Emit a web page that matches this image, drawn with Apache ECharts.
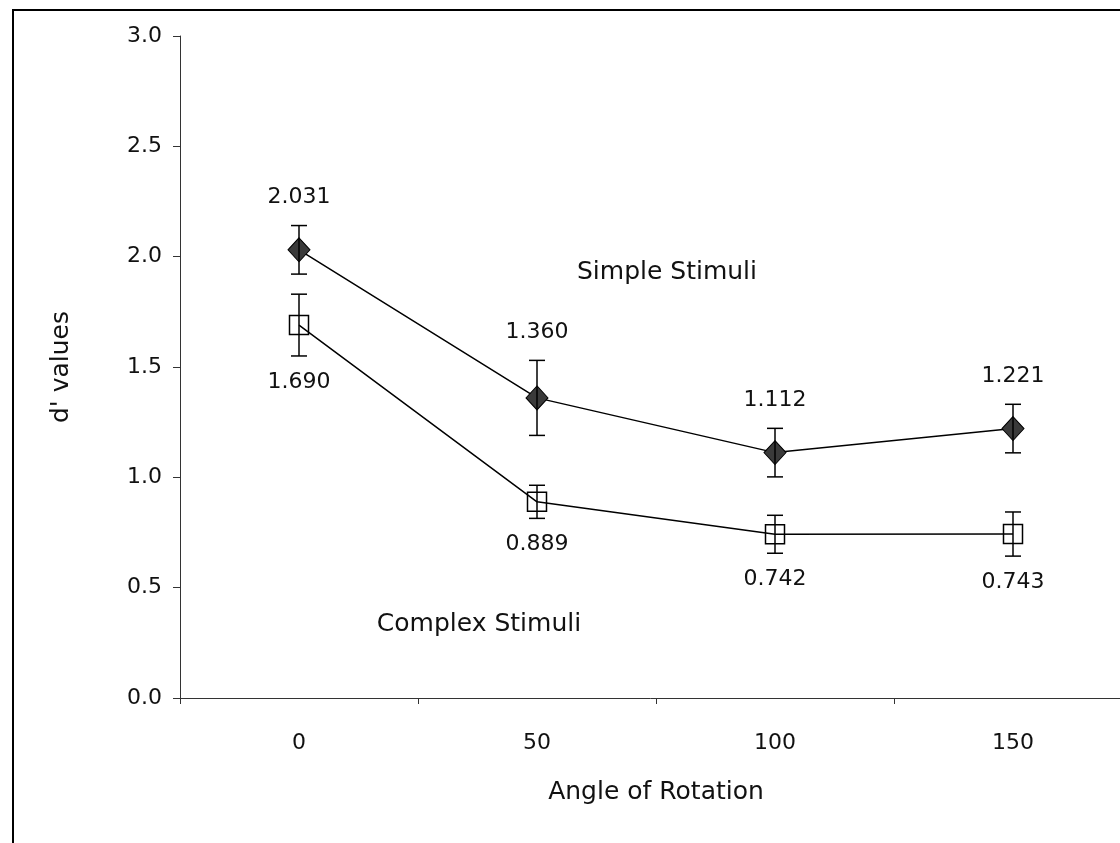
<!DOCTYPE html>
<html>
<head>
<meta charset="utf-8">
<script src="https://cdn.jsdelivr.net/npm/echarts@6/dist/echarts.min.js"></script>
<style>
  html, body { margin: 0; padding: 0; background: #fff; }
  #chart { width: 1120px; height: 843px; }
</style>
</head>
<body>
<div id="chart"></div>
<script>
  // angle of rotation categories
  const angles = ['0', '50', '100', '150']
  const yTicks = [0, 0.5, 1.0, 1.5, 2.0, 2.5, 3.0]
  // d' values
  const simpleVals = [2.031, 1.360, 1.112, 1.221]
  const simpleErr = [0.11, 0.17, 0.11, 0.11]
  const complexVals = [1.690, 0.889, 0.742, 0.743]
  const complexErr = [0.14, 0.075, 0.086, 0.10]

  const FONT = 'DejaVu Sans'
  const NUM = 22
  const WORD = 25
  const myChart = echarts.init(document.getElementById('chart'))

  function errorBars (labelSide) {
    return function (params, api) {
      const x = api.value(0)
      const v = api.value(1)
      const e = api.value(2)
      const top = api.coord([x, v + e])
      const bot = api.coord([x, v - e])
      const cap = 8
      const ls = { stroke: '#000', lineWidth: 1.5 }
      const labelY = labelSide === 'top' ? top[1] - 17 : bot[1] + 15
      return {
        type: 'group',
        children: [
          { type: 'line', shape: { x1: top[0], y1: top[1], x2: bot[0], y2: bot[1] }, style: ls },
          { type: 'line', shape: { x1: top[0] - cap, y1: top[1], x2: top[0] + cap, y2: top[1] }, style: ls },
          { type: 'line', shape: { x1: bot[0] - cap, y1: bot[1], x2: bot[0] + cap, y2: bot[1] }, style: ls },
          {
            type: 'text',
            style: {
              text: v.toFixed(3),
              x: top[0],
              y: labelY,
              align: 'center',
              verticalAlign: labelSide === 'top' ? 'bottom' : 'top',
              fontSize: NUM,
              fontFamily: FONT,
              fill: '#111'
            }
          }
        ]
      }
    }
  }

  const option = {
    animation: false,
    backgroundColor: '#fff',
    textStyle: { fontFamily: FONT, color: '#111' },
    grid: { left: 180, top: 36, width: 952, height: 662, outerBoundsMode: 'none' },
    xAxis: {
      type: 'category',
      data: angles,
      boundaryGap: true,
      name: 'Angle of Rotation',
      nameLocation: 'middle',
      nameGap: 82,
      nameTextStyle: { fontSize: WORD, fontFamily: FONT, color: '#111' },
      axisLine: { lineStyle: { color: '#333', width: 1 } },
      axisTick: { show: true, length: 6, lineStyle: { color: '#333' } },
      axisLabel: { fontSize: NUM, fontFamily: FONT, color: '#111', margin: 34 },
      splitLine: { show: false }
    },
    yAxis: {
      type: 'value',
      min: yTicks[0],
      max: yTicks[yTicks.length - 1],
      interval: 0.5,
      name: "d' values",
      nameLocation: 'middle',
      nameRotate: 90,
      nameGap: 106,
      nameTextStyle: { fontSize: WORD, fontFamily: FONT, color: '#111' },
      axisLine: { show: true, lineStyle: { color: '#333', width: 1 } },
      axisTick: { show: true, length: 7, lineStyle: { color: '#333' } },
      axisLabel: {
        fontSize: NUM, fontFamily: FONT, color: '#111', margin: 18,
        formatter: function (v) { return v.toFixed(1) }
      },
      splitLine: { show: false }
    },
    series: [
      {
        name: 'Simple Stimuli',
        type: 'line',
        data: simpleVals,
        symbol: 'diamond',
        symbolSize: [22, 24],
        lineStyle: { color: '#000', width: 1.5 },
        itemStyle: { color: '#3a3a3a', borderColor: '#000', borderWidth: 1 },
        z: 2
      },
      {
        name: 'Complex Stimuli',
        type: 'line',
        data: complexVals,
        symbol: 'rect',
        symbolSize: 19,
        lineStyle: { color: '#000', width: 1.5 },
        itemStyle: { color: 'transparent', borderColor: '#000', borderWidth: 1.5 },
        z: 2
      },
      {
        type: 'custom',
        renderItem: errorBars('top'),
        data: simpleVals.map(function (v, i) { return [i, v, simpleErr[i]] }),
        z: 3
      },
      {
        type: 'custom',
        renderItem: errorBars('bottom'),
        data: complexVals.map(function (v, i) { return [i, v, complexErr[i]] }),
        z: 3
      }
    ],
    graphic: [
      {
        type: 'rect',
        shape: { x: 13, y: 10, width: 1130, height: 850 },
        style: { fill: 'none', stroke: '#000', lineWidth: 2 },
        silent: true
      },
      {
        type: 'text',
        x: 667, y: 272,
        style: { text: 'Simple Stimuli', align: 'center', verticalAlign: 'middle', fontSize: WORD, fontFamily: FONT, fill: '#111' }
      },
      {
        type: 'text',
        x: 479, y: 624,
        style: { text: 'Complex Stimuli', align: 'center', verticalAlign: 'middle', fontSize: WORD, fontFamily: FONT, fill: '#111' }
      }
    ]
  }
  myChart.setOption(option)
</script>
</body>
</html>
